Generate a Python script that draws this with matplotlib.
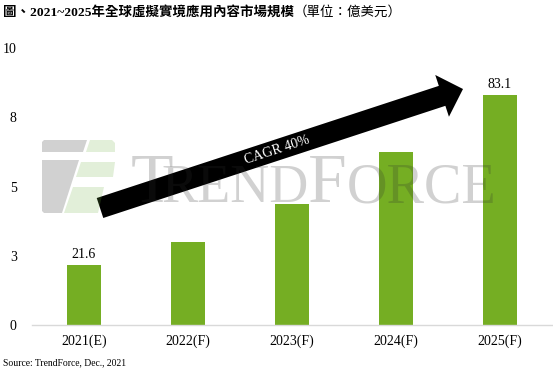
import numpy as np
import matplotlib
matplotlib.use("Agg")
import matplotlib.pyplot as plt
from matplotlib.patches import Polygon

# ---- data ----
categories = ["2021(E)", "2022(F)", "2023(F)", "2024(F)", "2025(F)"]
values = [21.6, 30.1, 43.6, 62.3, 83.1]          # 億美元
labelled = [True, False, False, False, True]
ytick_vals = [0, 2.5, 5, 7.5, 10]
ytick_labels = ["0", "3", "5", "8", "10"]
title_bold = "圖、2021~2025年全球虛擬實境應用內容市場規模"
title_unit = "（單位：億美元）"
source = "Source: TrendForce, Dec., 2021"
cagr_text = "CAGR 40%"

W, H = 553, 374
SERIF = ["Liberation Serif", "Noto Sans CJK TC"]
plt.rcParams["font.family"] = SERIF

fig = plt.figure(figsize=(W / 100, H / 100), dpi=100)
fig.patch.set_facecolor("white")

def fx(px):
    return px / W

def fy(py):
    return 1 - py / H

ax = fig.add_axes([fx(32), fy(325), (552 - 32) / W, (325 - 48) / H])
x = np.arange(len(categories))
scaled = [v / 10 for v in values]
bars = ax.bar(x, scaled, width=0.32, color="#75ae23", zorder=2)
for b, v, lab in zip(bars, values, labelled):
    if lab:
        ax.annotate(f"{v:.1f}", (b.get_x() + b.get_width() / 2, b.get_height()),
                    xytext=(0, 3), textcoords="offset points", ha="center",
                    va="bottom", fontsize=10, color="black")

ax.set_xlim(-0.5, len(categories) - 0.5)
ax.set_ylim(0, 10)
ax.set_yticks(ytick_vals)
ax.set_yticklabels(ytick_labels, fontsize=10)
ax.set_xticks(x)
ax.set_xticklabels(categories, fontsize=10)
ax.tick_params(axis="y", length=0, pad=11)
ax.tick_params(axis="x", length=0, pad=7)
for s in ["left", "right", "top"]:
    ax.spines[s].set_visible(False)
ax.spines["bottom"].set_color("#d9d9d9")
ax.spines["bottom"].set_linewidth(1.0)

# ---- CAGR arrow (pixel geometry -> figure fraction) ----
tail = np.array([100.0, 208.0])
tip = np.array([463.0, 89.0])
d = tip - tail
u = d / np.linalg.norm(d)
n = np.array([-u[1], u[0]])
half_shaft, half_head, head_len = 10.5, 22.0, 22.0
base = tip - head_len * u
pts = [tail + half_shaft * n, base + half_shaft * n, base + half_head * n, tip,
       base - half_head * n, base - half_shaft * n, tail - half_shaft * n]
poly = Polygon([(fx(p[0]), fy(p[1])) for p in pts], closed=True,
               transform=fig.transFigure, facecolor="black", edgecolor="none",
               zorder=5)
fig.add_artist(poly)
ang = np.degrees(np.arctan2(-d[1], d[0]))
mid = tail + u * 186
fig.text(fx(mid[0]), fy(mid[1]), cagr_text, rotation=ang, rotation_mode="anchor",
         ha="center", va="center", color="white", fontsize=10, zorder=6)

# ---- watermark ----
wm_kw = dict(color="#303030", alpha=0.22, zorder=8, family="Liberation Serif",
             va="baseline", ha="left")
fig.text(fx(131), fy(202), "T", fontsize=50, **wm_kw)
fig.text(fx(161), fy(202), "REND", fontsize=39, **wm_kw)
fig.text(fx(308), fy(202), "F", fontsize=50, **wm_kw)
fig.text(fx(347), fy(202), "ORCE", fontsize=40.5, **wm_kw)
gray_shapes = [
    [(44, 140), (87, 140), (83, 152), (42, 152), (42, 142)],
    [(42, 160), (79, 160), (62, 213), (44, 213), (42, 211)],
]
green_shapes = [
    [(90, 140), (112, 140), (115, 143), (115, 152), (86, 152)],
    [(81, 162), (115, 162), (113, 177), (76, 177)],
    [(73, 187), (104, 187), (98, 213), (64, 213)],
]
for shp in gray_shapes:
    fig.add_artist(Polygon([(fx(a), fy(b)) for a, b in shp], transform=fig.transFigure,
                           facecolor="#303030", alpha=0.22, edgecolor="none", zorder=8))
for shp in green_shapes:
    fig.add_artist(Polygon([(fx(a), fy(b)) for a, b in shp], transform=fig.transFigure,
                           facecolor="#6eaf41", alpha=0.2, edgecolor="none", zorder=8))

# ---- title ----
renderer = fig.canvas.get_renderer()
t1 = fig.text(fx(3), fy(12), title_bold, fontsize=9.7, fontweight="bold",
              ha="left", va="center", family=SERIF)
bb = t1.get_window_extent(renderer=renderer)
fig.text(bb.x1 / W, fy(12), title_unit, fontsize=9.7, ha="left", va="center",
         family=SERIF)

fig.text(fx(3), fy(363), source, fontsize=6.9, ha="left", va="center")

fig.savefig("out.png", dpi=100, facecolor="white")
